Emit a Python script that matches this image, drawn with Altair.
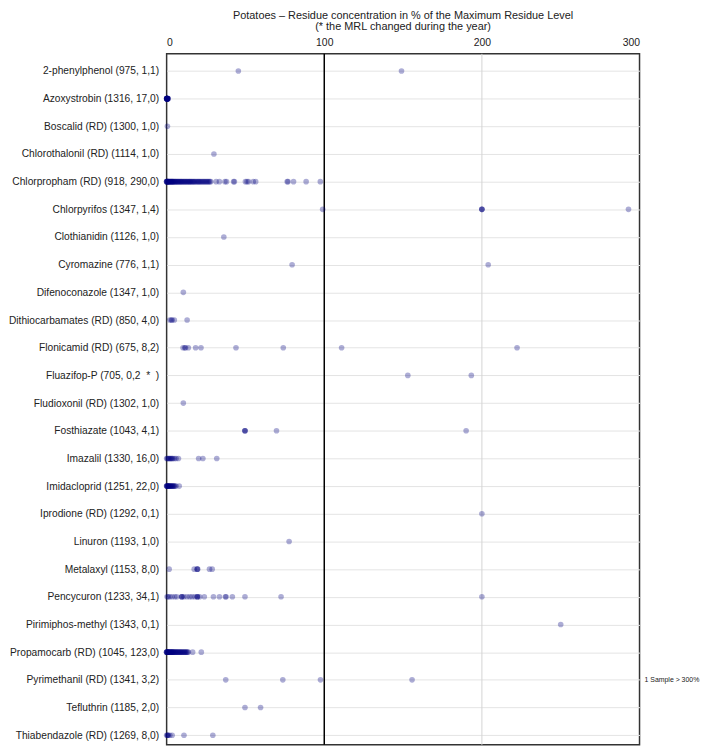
import altair as alt
import pandas as pd

labels = [
    "2-phenylphenol (975, 1,1)",
    "Azoxystrobin (1316, 17,0)",
    "Boscalid (RD) (1300, 1,0)",
    "Chlorothalonil (RD) (1114, 1,0)",
    "Chlorpropham (RD) (918, 290,0)",
    "Chlorpyrifos (1347, 1,4)",
    "Clothianidin (1126, 1,0)",
    "Cyromazine (776, 1,1)",
    "Difenoconazole (1347, 1,0)",
    "Dithiocarbamates (RD) (850, 4,0)",
    "Flonicamid (RD) (675, 8,2)",
    "Fluazifop-P (705, 0,2\u00a0\u00a0*\u00a0\u00a0)",
    "Fludioxonil (RD) (1302, 1,0)",
    "Fosthiazate (1043, 4,1)",
    "Imazalil (1330, 16,0)",
    "Imidacloprid (1251, 22,0)",
    "Iprodione (RD) (1292, 0,1)",
    "Linuron (1193, 1,0)",
    "Metalaxyl (1153, 8,0)",
    "Pencycuron (1233, 34,1)",
    "Pirimiphos-methyl (1343, 0,1)",
    "Propamocarb (RD) (1045, 123,0)",
    "Pyrimethanil (RD) (1341, 3,2)",
    "Tefluthrin (1185, 2,0)",
    "Thiabendazole (RD) (1269, 8,0)",
]

phenylphenol = [45.5, 149]
azoxystrobin = [0, 0, 0, 0.1, 0.1, 0.2, 0.2, 0.3, 0.3, 0.4, 0.4, 0.5, 0.5, 0.6, 0.7, 0.8, 1.0]
boscalid = [0.5]
chlorothalonil = [30]
chlorpropham = [0, 0, 0, 0.2, 0.4, 0.5, 0.7, 0.9, 1, 1.2, 1.5, 1.7, 2, 2.2, 2.5, 2.8, 3, 3.3,
                3.5, 3.8, 4, 4.3, 4.6, 5, 5.3, 5.7, 6, 6.4, 6.8, 7.2, 7.5, 8, 8.4, 8.8, 9.2, 9.6,
                10, 10.5, 11, 11.4, 11.8, 12.3, 12.8, 13.2, 13.7, 14.2, 14.6, 15, 15.5, 16, 16.5,
                17, 17.5, 18, 18.6, 19.2, 19.8, 20.3, 20.8, 21.4, 22, 22.6, 23.2, 23.8, 24.4, 25,
                25.6, 26.2, 26.8, 27.4, 28, 31.4, 33.5, 37, 38, 42.5, 43, 50, 51, 52, 55, 56.5,
                76.5, 77, 80.5, 88.5, 97.5]
chlorpyrifos = [99, 200, 200, 200, 293]
clothianidin = [36.3]
cyromazine = [79.6, 204]
difenoconazole = [10.6]
dithiocarbamates = [2, 3, 3.5, 4.9, 13]
flonicamid = [10.4, 11.5, 12, 13.8, 18.4, 21.8, 44, 74, 111, 222.3]
fluazifop = [153, 193.3]
fludioxonil = [10.6]
fosthiazate = [49.7, 49.7, 49.7, 69.7, 190]
imazalil = [0, 0.5, 1, 1.5, 2, 2.5, 3, 3.5, 4, 5, 6, 7.5, 20.3, 23, 31.8]
imidacloprid = [0, 0, 0.2, 0.4, 0.5, 0.7, 1, 1.2, 1.5, 1.8, 2, 2.3, 2.6, 3, 3.3, 3.7, 4, 4.4,
                4.8, 5.3, 6, 8]
iprodione = [200]
linuron = [77.7]
metalaxyl = [1.6, 17.5, 19.3, 19.5, 19.7, 27.2, 28.9]
pencycuron = [0.3, 1, 2, 3.5, 5.2, 6.5, 9.4, 9.6, 9.8, 11, 12.9, 14.6, 16.1, 17.8, 19.3, 19.5,
              19.7, 21, 23.9, 29.7, 33.5, 37.3, 37.7, 41.7, 49.7, 72.6, 200]
pirimiphos = [250]
propamocarb = [0, 0, 0, 0.2, 0.4, 0.5, 0.7, 0.9, 1, 1.2, 1.5, 1.7, 2, 2.2, 2.5, 2.8, 3, 3.3,
               3.5, 3.8, 4, 4.3, 4.6, 5, 5.3, 5.7, 6, 6.4, 6.8, 7.2, 7.5, 8, 8.4, 8.8, 9.2, 9.6,
               10, 10.5, 11, 11.4, 11.8, 12.3, 12.8, 13.2, 13.8, 16.5, 22]
pyrimethanil = [37.5, 73.7, 97.6, 155.7]
tefluthrin = [49.7, 59.6]
thiabendazole = [0, 0.5, 0.7, 1, 2, 3.5, 11, 29.3]

series = [phenylphenol, azoxystrobin, boscalid, chlorothalonil, chlorpropham, chlorpyrifos,
          clothianidin, cyromazine, difenoconazole, dithiocarbamates, flonicamid, fluazifop,
          fludioxonil, fosthiazate, imazalil, imidacloprid, iprodione, linuron, metalaxyl,
          pencycuron, pirimiphos, propamocarb, pyrimethanil, tefluthrin, thiabendazole]

rows = []
for lab, vals in zip(labels, series):
    for v in vals:
        rows.append({"substance": lab, "value": v})
df = pd.DataFrame(rows)

ref_values = [100, 200]
ref_colors = ["#000000", "#d4d4d4"]
ref_widths = [1.5, 1]
ref_df = pd.DataFrame({"v": ref_values, "c": ref_colors, "w": ref_widths})

note_df = pd.DataFrame({"substance": ["Pyrimethanil (RD) (1341, 3,2)"], "text": ["1 Sample > 300%"]})

FONT = "Liberation Sans"

xscale = alt.Scale(domain=[0, 300], nice=False, zero=False)
yscale = alt.Scale(type="point", domain=labels, padding=0.4835, align=0.64)
yaxis = alt.Axis(title=None, ticks=False, domain=False, grid=True, gridColor="#e4e4e4",
                 labelFontSize=10.3, labelFont=FONT, labelColor="#222222",
                 labelPadding=8, labelLimit=0)

rules = alt.Chart(ref_df).mark_rule().encode(
    x=alt.X("v:Q", scale=xscale),
    color=alt.Color("c:N", scale=None),
    strokeWidth=alt.StrokeWidth("w:Q", scale=None),
)

points = alt.Chart(df).mark_circle(size=32, color="#000080", opacity=0.32).encode(
    x=alt.X("value:Q", scale=xscale,
            axis=alt.Axis(orient="top", values=[0, 100, 200, 300], grid=False, ticks=False,
                          domain=False, labelPadding=6, labelFontSize=10.5, labelFont=FONT,
                          labelColor="#222222", title=None)),
    y=alt.Y("substance:N", scale=yscale, sort=labels, axis=yaxis),
)

note = alt.Chart(note_df).mark_text(align="left", baseline="middle", dx=5, fontSize=7,
                                    font=FONT, color="#222222").encode(
    x=alt.datum(300),
    y=alt.Y("substance:N", scale=yscale, sort=labels, axis=yaxis),
    text="text:N",
)

chart = alt.layer(rules, points, note).properties(
    width=477,
    height=697,
    padding={"left": 160, "top": 43, "right": 62, "bottom": 4},
    autosize=alt.AutoSizeParams(type="none"),
    title=alt.Title(["Potatoes \u2013 Residue concentration in % of the Maximum Residue Level",
                     "(* the MRL changed during the year)"],
                    anchor="middle", frame="group", fontSize=11, fontWeight="normal",
                    font=FONT, color="#222222", lineHeight=11.5, offset=6),
).configure_view(stroke="#333333", strokeWidth=1.5)

chart.save("out.html", embed_options={"renderer": "svg", "actions": False})
